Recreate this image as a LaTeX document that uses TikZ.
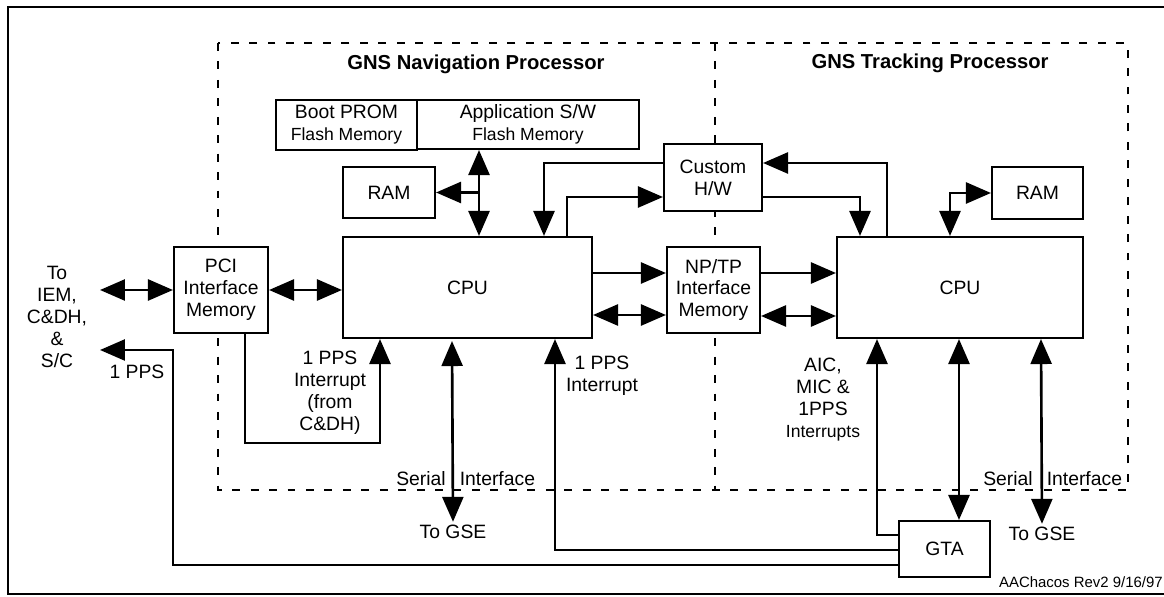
\documentclass[tikz,border=0pt]{standalone}
\usepackage{fontspec}
\setmainfont{Liberation Sans}
\usepackage{tikz}
\usetikzlibrary{arrows.meta,calc}

\begin{document}
\begin{tikzpicture}[
		x=0.02cm, y=-0.02cm,   % one unit = one pixel of the sheet, y down
		line cap=butt, line join=miter,
		font=\fontsize{11}{12.5}\selectfont,
		blk/.style={draw, fill=white, line width=1.2pt, align=center, inner sep=0pt},
		lbl/.style={align=center, inner sep=0pt},
		oneway/.style={line width=1.5pt, -{Triangle[length=0.5cm,width=0.42cm]}},
		twoway/.style={line width=1.5pt, {Triangle[length=0.5cm,width=0.42cm]}-{Triangle[length=0.5cm,width=0.42cm]}},
		region/.style={line width=0.9pt, dash pattern=on 4.5pt off 6pt}
		]
		\useasboundingbox (0,0) rectangle (1164,597);
		
		% ---------- Sheet frame ----------
		\draw[line width=1.2pt] (1164,7) -- (8,7) -- (8,594) -- (1164,594);
		
		% ---------- Processor regions (dashed) ----------
		\draw[region] (218,43) rectangle (1128,490);
		\draw[region] (715,43) -- (715,490);
		\node[font=\fontsize{11.5}{13}\selectfont\bfseries] (navtitle) at (476,64) {GNS Navigation Processor};
		\node[font=\fontsize{11.5}{13}\selectfont\bfseries] (trktitle) at (930,63) {GNS Tracking Processor};
		
		% ---------- Navigation processor blocks ----------
		\node[blk, minimum width=2.82cm, minimum height=1.0cm] (bootprom) at (346.5,125)
		{Boot PROM\\{\fontsize{10}{12}\selectfont Flash Memory}};
		\node[blk, minimum width=4.44cm, minimum height=0.98cm] (appsw) at (528,124.5)
		{Application S/W\\{\fontsize{10}{12}\selectfont Flash Memory}};
		\node[blk, minimum width=1.84cm, minimum height=1.02cm] (navram) at (389,192.5) {RAM};
		\node[blk, minimum width=4.98cm, minimum height=2.02cm] (navcpu) at (467.5,287.5) {CPU};
		\node[blk, minimum width=1.88cm, minimum height=1.72cm] (pci) at (221,290) {PCI\\Interface\\Memory};
		
		% ---------- Shared blocks on the divider ----------
		\node[blk, minimum width=1.96cm, minimum height=1.34cm] (custom) at (713,177.5) {Custom\\H/W};
		\node[blk, minimum width=1.86cm, minimum height=1.72cm] (nptp) at (713.5,290) {NP/TP\\Interface\\Memory};
		
		% ---------- Tracking processor blocks ----------
		\node[blk, minimum width=4.92cm, minimum height=2.02cm] (trkcpu) at (960,287.5) {CPU};
		\node[blk, minimum width=1.82cm, minimum height=1.04cm] (trkram) at (1037.5,193) {RAM};
		\node[blk, minimum width=1.82cm, minimum height=1.12cm] (gta) at (944.5,549) {GTA};
		
		% ---------- Outside labels ----------
		\node[lbl] (toiem) at (57,317) {To\\IEM,\\C\&DH,\\\&\\S/C};
		\node[lbl] (navgse) at (453,532) {To GSE};
		\node[lbl] (trkgse) at (1042,534) {To GSE};
		\coordinate (iemin) at (100,290);
		\coordinate (ppsout) at (100,350);
		
		% ---------- Links, navigation side ----------
		\draw[twoway] (iemin) -- (pci.west);
		\draw[twoway] (pci.east) -- (pci.east -| navcpu.west);
		\draw[twoway] (479,0 |- appsw.south) -- (479,0 |- navcpu.north);
		\draw[oneway] (479,0 |- navram.east) -- (navram.east);
		\draw[oneway] (pci.south -| 245,0) |- (380,443) -- (380,0 |- navcpu.south);
		\draw[twoway] ([yshift=-0.04cm]452,0 |- navcpu.south) -- ([yshift=0.06cm]navgse.north);
		
		% ---------- Links through Custom H/W ----------
		\draw[oneway] (custom.west |- 0,163) -| (544,0 |- navcpu.north);
		\draw[oneway] (567,0 |- navcpu.north) |- (custom.west |- 0,197);
		\draw[oneway] (887,0 |- trkcpu.north) |- (custom.east |- 0,163);
		\draw[oneway] (custom.east |- 0,197) -| (860,0 |- trkcpu.north);
		
		% ---------- Links through NP/TP memory ----------
		\draw[oneway] (navcpu.east |- 0,273) -- (nptp.west |- 0,273);
		\draw[twoway] (navcpu.east |- 0,315) -- (nptp.west |- 0,315);
		\draw[oneway] (nptp.east |- 0,273) -- (trkcpu.west |- 0,273);
		\draw[twoway] (nptp.east |- 0,316) -- (trkcpu.west |- 0,316);
		
		% ---------- Links, tracking side ----------
		\draw[twoway] (950,0 |- trkcpu.north) |- (trkram.west);
		\draw[oneway] (gta.west |- 0,535) -| (877,0 |- trkcpu.south);
		\draw[twoway] (959,0 |- trkcpu.south) -- (959,0 |- gta.north);
		\draw[twoway] (1041,0 |- trkcpu.south) -- ([yshift=0.06cm]trkgse.north);
		
		% ---------- 1 PPS lines from GTA ----------
		\draw[oneway] (gta.west |- 0,550) -| (555,0 |- navcpu.south);
		\draw[oneway] (gta.west |- 0,565) -| (pci.west |- ppsout) -- (ppsout);
		
		% ---------- Link labels ----------
		\node[lbl] (ppslbl) at (137,372) {1 PPS};
		\node[lbl] (cdhlbl) at (330,392.5) {1 PPS\\Interrupt\\(from\\C\&DH)};
		\node[lbl] (navintlbl) at (602,375.5) {1 PPS\\Interrupt};
		\node[lbl] (aiclbl) at (823,400) {AIC,\\MIC \&\\1PPS\\{\fontsize{10}{12}\selectfont Interrupts}};
		\node[lbl, anchor=base west] (navserial) at (396,486) {Serial\hspace{8pt}Interface};
		\node[lbl, anchor=base west] (trkserial) at (983,486) {Serial\hspace{8pt}Interface};
		\node[lbl, anchor=base east, font=\fontsize{8.5}{10}\selectfont] (rev) at (1163,588) {AAChacos Rev2 9/16/97};
		
	\end{tikzpicture}
\end{document}
